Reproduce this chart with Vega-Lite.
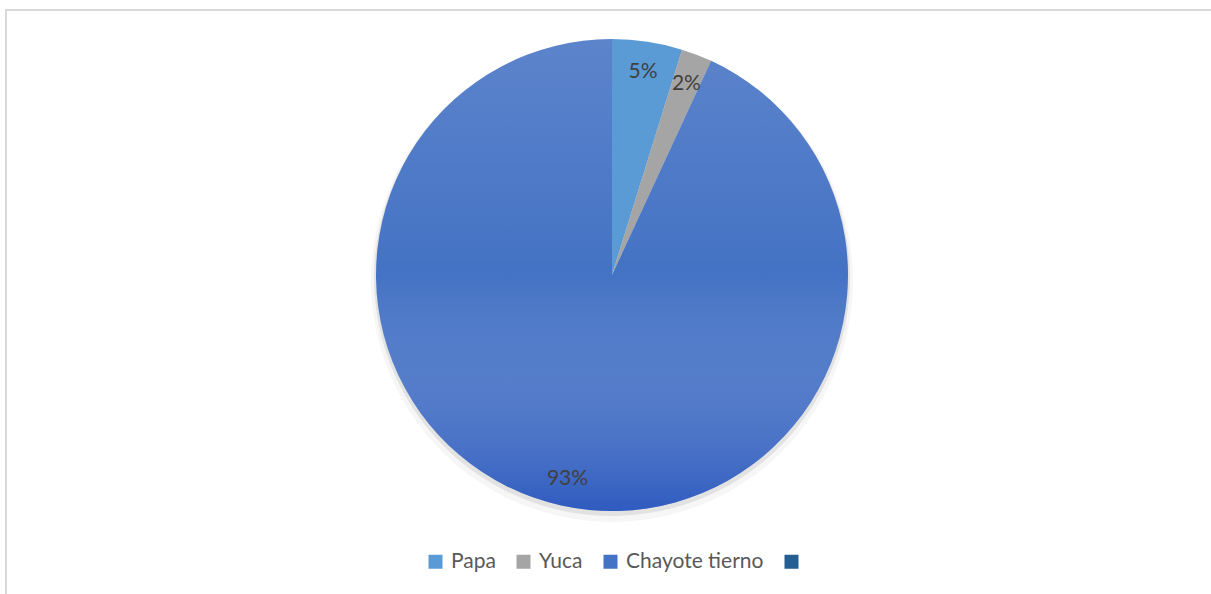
{
  "$schema": "https://vega.github.io/schema/vega-lite/v6.json",
  "autosize": {"type": "none"},
  "padding": {"left": 6, "top": 10, "right": 0, "bottom": 0},
  "width": 1212,
  "height": 600,
  "background": "white",
  "datasets": {
    "crops": [
      {"idx": 1, "cat": "Papa", "pct": 0.048},
      {"idx": 2, "cat": "Yuca", "pct": 0.021},
      {"idx": 3, "cat": "Chayote tierno", "pct": 0.931}
    ],
    "frame": [{"name": "frame"}]
  },
  "layer": [
    {
      "data": {"name": "frame"},
      "mark": {"type": "rect", "fill": null, "stroke": "#d9d9d9", "strokeWidth": 2},
      "encoding": {}
    },
    {
      "data": {"name": "crops"},
      "mark": {"type": "arc", "outerRadius": 241, "fill": "#000000", "fillOpacity": 0.035, "yOffset": -29, "stroke": null},
      "encoding": {
        "theta": {"field": "pct", "type": "quantitative", "stack": true},
        "order": {"field": "idx", "type": "quantitative"}
      }
    },
    {
      "data": {"name": "crops"},
      "mark": {"type": "arc", "outerRadius": 238, "fill": "#000000", "fillOpacity": 0.08, "yOffset": -32, "stroke": null},
      "encoding": {
        "theta": {"field": "pct", "type": "quantitative", "stack": true},
        "order": {"field": "idx", "type": "quantitative"}
      }
    },
    {
      "data": {"name": "crops"},
      "mark": {"type": "arc", "outerRadius": 236, "yOffset": -35, "stroke": null},
      "encoding": {
        "theta": {"field": "pct", "type": "quantitative", "stack": true},
        "order": {"field": "idx", "type": "quantitative"},
        "color": {
          "field": "cat",
          "type": "nominal",
          "scale": {"domain": ["Papa", "Yuca", "Chayote tierno", " "], "range": ["#5B9BD5", "#A5A5A5", "#4472C4", "#255E91"]},
          "legend": {"title": null}
        }
      }
    },
    {
      "data": {"name": "crops"},
      "mark": {
        "type": "arc", "outerRadius": 236, "yOffset": -35, "stroke": null,
        "fill": {"gradient": "linear", "x1": 0, "y1": 0, "x2": 0, "y2": 1, "stops": [
          {"offset": 0, "color": "rgba(255,255,255,0.13)"},
          {"offset": 0.5, "color": "rgba(255,255,255,0)"},
          {"offset": 1, "color": "rgba(20,60,185,0.44)"}
        ]}
      },
      "encoding": {
        "theta": {"field": "pct", "type": "quantitative", "stack": true},
        "order": {"field": "idx", "type": "quantitative"},
        "fillOpacity": {"condition": {"test": "datum.cat === 'Chayote tierno'", "value": 1}, "value": 0}
      }
    },
    {
      "data": {"name": "crops"},
      "mark": {"type": "text", "radius": 207, "yOffset": -33, "font": "Lato", "fontSize": 21, "fill": "#404040"},
      "encoding": {
        "theta": {"field": "pct", "type": "quantitative", "stack": true},
        "order": {"field": "idx", "type": "quantitative"},
        "text": {"field": "pct", "type": "quantitative", "format": ".0%"}
      }
    }
  ],
  "config": {
    "view": {"stroke": null},
    "legend": {
      "orient": "none",
      "legendX": 419,
      "legendY": 541,
      "direction": "horizontal",
      "symbolType": "square",
      "symbolSize": 196,
      "symbolStrokeWidth": 0,
      "labelFont": "Lato",
      "labelFontSize": 21,
      "labelColor": "#595959",
      "labelOffset": 5,
      "columnPadding": 17,
      "labelLimit": 300
    }
  }
}
